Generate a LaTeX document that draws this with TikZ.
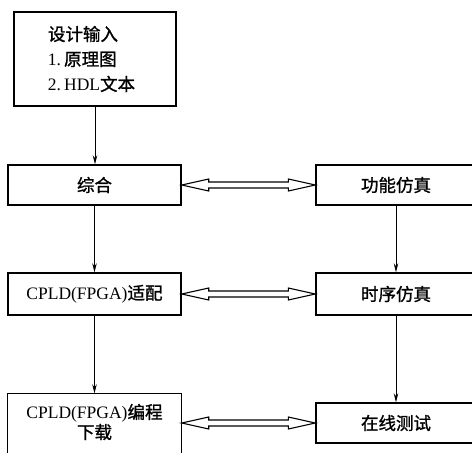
\documentclass[tikz,border=0pt]{standalone}
\usepackage{fontspec}
\setmainfont{Liberation Serif}
\newfontfamily\cjk[FakeBold=1.2]{Noto Sans CJK SC}
\usetikzlibrary{calc,arrows.meta}
\newcommand\dblarrow[2]{\draw[dbl] let \p1=(#1), \p2=(#2) in
  (\x1,\y2) -- (\x1+27pt,\y2+6pt) -- (\x1+27pt,\y2+3pt) -- (\x2-27pt,\y2+3pt) -- (\x2-27pt,\y2+6pt)
  -- (\x2,\y2) -- (\x2-27pt,\y2-6pt) -- (\x2-27pt,\y2-3pt) -- (\x1+27pt,\y2-3pt) -- (\x1+27pt,\y2-6pt) -- cycle;}
\begin{document}
\begin{tikzpicture}[x=1pt,y=-1pt,
  box/.style={draw, line width=1.4pt, inner sep=0pt, font=\fontsize{17.5}{25}\selectfont, align=center},
  flow/.style={line width=0.9pt, -{Stealth[length=9pt,width=4.5pt]}},
  dbl/.style={line width=1.1pt, line join=miter}]
\useasboundingbox (0,0) rectangle (472,453);
\node[box, minimum width=162pt, minimum height=94pt, text width=94pt, align=left] (input) at (95,59)
  {{\cjk 设计输入}\\1.\hspace{3pt}{\cjk 原理图}\\2.\hspace{3pt}HDL{\cjk 文本}};
\node[box, minimum width=173pt, minimum height=40pt] (zonghe) at (94.5,185) {\cjk 综合};
\node[box, minimum width=160pt, minimum height=40pt] (gongneng) at (396,185) {\cjk 功能仿真};
\node[box, minimum width=173pt, minimum height=42pt] (shipei) at (94.5,294) {CPLD(FPGA){\cjk 适配}};
\node[box, minimum width=160pt, minimum height=42pt] (shixu) at (396,294) {\cjk 时序仿真};
\node[box, minimum width=160pt, minimum height=40pt] (zaixian) at (396,423) {\cjk 在线测试};
\node[box, draw=none, minimum width=173pt, minimum height=56pt, font=\fontsize{17.5}{20}\selectfont] (biancheng) at (94.5,422)
  {CPLD(FPGA){\cjk 编程}\\{\cjk 下载}};
\draw[line width=1.4pt] ($(biancheng.south west)+(0,8)$) -- (biancheng.north west) -- (biancheng.north east) -- ($(biancheng.south east)+(0,8)$);
\draw[flow] (input.south) -- (input.south |- zonghe.north);
\draw[flow] (zonghe.south) -- (shipei.north);
\draw[flow] (shipei.south) -- (biancheng.north);
\draw[flow] (gongneng.south) -- (shixu.north);
\draw[flow] (shixu.south) -- (zaixian.north);
\dblarrow{zonghe.east}{gongneng.west}
\dblarrow{shipei.east}{shixu.west}
\dblarrow{biancheng.east}{zaixian.west}
\end{tikzpicture}
\end{document}
